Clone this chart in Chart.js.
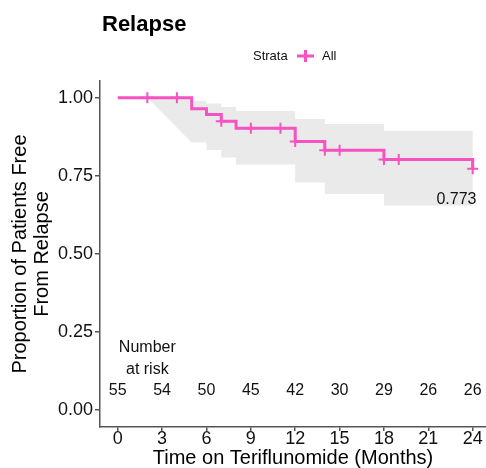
<!DOCTYPE html>
<html lang="en">
<head>
<meta charset="UTF-8">
<title>Relapse</title>
<script src="https://cdn.jsdelivr.net/npm/chart.js"></script>
<style>
  html, body { margin: 0; padding: 0; background: #fff; }
  #wrap { width: 486px; height: 468px; }
</style>
</head>
<body>
<div id="wrap"><canvas id="kmChart" width="486" height="468"></canvas></div>
<script>
// Kaplan-Meier estimate (months, proportion free from relapse)
const kmTimes = [0, 5, 6, 7, 8, 12, 14, 18, 24];
const kmSurv = [1.000, 0.965, 0.947, 0.925, 0.903, 0.860, 0.832, 0.803, 0.773];
const censorTimes = [2, 4, 7, 9, 11, 12, 14, 15, 18, 19, 24];

// confidence band, one value per interval between ciTimes
const ciTimes = [2, 5, 6, 7, 8, 12, 14, 18, 24];
const ciUpper = [1.000, 0.990, 0.982, 0.971, 0.958, 0.932, 0.916, 0.895];
const ciLower = [1.000, 0.857, 0.833, 0.809, 0.787, 0.729, 0.692, 0.655];

// number at risk
const riskTimes = [0, 3, 6, 9, 12, 15, 18, 21, 24];
const riskCounts = [55, 54, 50, 45, 42, 30, 29, 26, 26];

const xTicks = [0, 3, 6, 9, 12, 15, 18, 21, 24];
const yTicks = [0, 0.25, 0.5, 0.75, 1];

const pink = '#F652C0';
const fontFam = '"Liberation Sans", Arial, sans-serif';
Chart.defaults.font.family = fontFam;

function survAt(t) {
  let s = kmSurv[0];
  for (let i = 0; i < kmTimes.length; i++) {
    if (kmTimes[i] <= t) s = kmSurv[i];
  }
  return s;
}

// polygon for the band: upper steps forward, lower steps back
const band = [];
for (let i = 0; i < ciUpper.length; i++) {
  band.push({ x: ciTimes[i], y: ciUpper[i] }, { x: ciTimes[i + 1], y: ciUpper[i] });
}
for (let i = ciLower.length - 1; i >= 1; i--) {
  band.push({ x: ciTimes[i + 1], y: ciLower[i] }, { x: ciTimes[i], y: ciLower[i] });
}
band.push({ x: ciTimes[0], y: ciLower[0] });

const kmPoints = kmTimes.map((t, i) => ({ x: t, y: kmSurv[i] }));
const censorPoints = censorTimes.map(t => ({ x: t, y: survAt(t) }));

const overlay = {
  id: 'overlay',
  afterDraw(chart) {
    const { ctx, scales: { x, y } } = chart;
    ctx.save();
    ctx.fillStyle = '#000';
    ctx.textBaseline = 'middle';

    ctx.textAlign = 'left';
    ctx.font = 'bold 22px ' + fontFam;
    ctx.fillText('Relapse', 102, 25);

    // legend
    ctx.font = '13px ' + fontFam;
    ctx.fillStyle = '#111';
    ctx.fillText('Strata', 253, 56);
    ctx.fillText('All', 322, 56);
    ctx.strokeStyle = pink;
    ctx.lineWidth = 3;
    ctx.beginPath();
    ctx.moveTo(297, 56); ctx.lineTo(314, 56);
    ctx.moveTo(305.5, 50); ctx.lineTo(305.5, 62);
    ctx.stroke();

    // final estimate
    ctx.textAlign = 'center';
    ctx.font = '16px ' + fontFam;
    ctx.fillText(kmSurv[kmSurv.length - 1].toFixed(3), x.getPixelForValue(22.9), y.getPixelForValue(0.674));

    // number at risk table
    ctx.fillText('Number', x.getPixelForValue(2), y.getPixelForValue(0.201));
    ctx.fillText('at risk', x.getPixelForValue(2), y.getPixelForValue(0.131));
    riskTimes.forEach((t, i) => {
      ctx.fillText(String(riskCounts[i]), x.getPixelForValue(t), y.getPixelForValue(0.064));
    });
    ctx.restore();
  }
};

new Chart(document.getElementById('kmChart'), {
  type: 'line',
  data: {
    datasets: [
      {
        type: 'scatter',
        data: censorPoints,
        pointStyle: 'cross',
        pointRadius: 5.5,
        borderColor: pink,
        borderWidth: 2,
        order: 0
      },
      {
        data: kmPoints,
        stepped: true,
        borderColor: pink,
        borderWidth: 3,
        pointRadius: 0,
        fill: false,
        order: 1
      },
      {
        data: band,
        borderWidth: 0,
        borderColor: 'rgba(0,0,0,0)',
        backgroundColor: '#EAEAEA',
        pointRadius: 0,
        fill: 'shape',
        order: 3
      }
    ]
  },
  options: {
    responsive: false,
    animation: false,
    layout: { autoPadding: false, padding: { top: 81, right: 0, left: 0, bottom: 0 } },
    plugins: { legend: { display: false }, tooltip: { enabled: false } },
    scales: {
      x: {
        type: 'linear',
        min: -1.2,
        max: 24.9,
        afterBuildTicks: s => { s.ticks = xTicks.map(v => ({ value: v })); },
        afterFit: s => { s.height = 41; s.paddingLeft = 0; s.paddingRight = 0; },
        grid: { drawOnChartArea: false, drawTicks: true, tickLength: 4, color: '#555', lineWidth: 1.5 },
        border: { color: '#555', width: 1.5 },
        ticks: { font: { size: 18 }, color: '#111', padding: -3, maxRotation: 0 },
        title: {
          display: true,
          text: 'Time on Teriflunomide (Months)',
          font: { size: 20, lineHeight: 1 },
          color: '#000',
          padding: 0
        }
      },
      y: {
        type: 'linear',
        min: -0.054,
        max: 1.054,
        afterBuildTicks: s => { s.ticks = yTicks.map(v => ({ value: v })); },
        afterFit: s => { s.width = 100; s.paddingTop = 0; s.paddingBottom = 0; },
        grid: { drawOnChartArea: false, drawTicks: true, tickLength: 5, color: '#555', lineWidth: 1.5 },
        border: { color: '#555', width: 1.5 },
        ticks: { font: { size: 18 }, color: '#111', padding: 2, callback: v => v.toFixed(2) },
        title: {
          display: true,
          text: ['Proportion of Patients Free', 'From Relapse'],
          font: { size: 20, lineHeight: 1.1 },
          color: '#000',
          padding: { top: 9, bottom: 0 }
        }
      }
    }
  },
  plugins: [overlay]
});
</script>
</body>
</html>
